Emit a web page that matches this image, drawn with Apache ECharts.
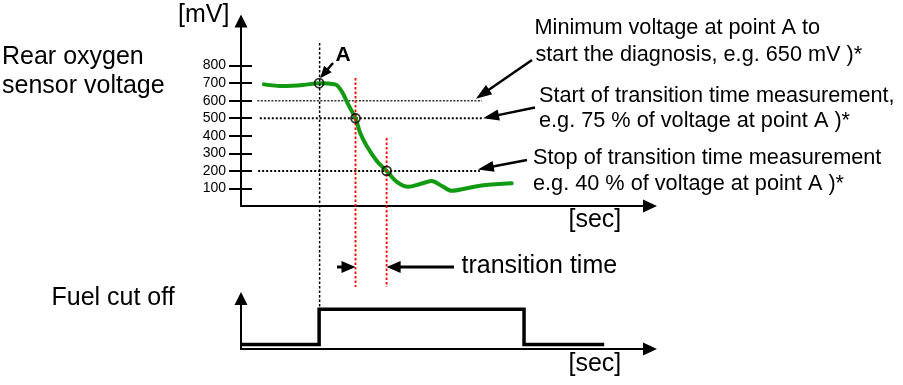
<!DOCTYPE html>
<html>
<head>
<meta charset="utf-8">
<script src="https://cdn.jsdelivr.net/npm/echarts@6/dist/echarts.min.js"></script>
<style>
html,body{margin:0;padding:0;background:#fff;}
#c{width:903px;height:385px;}
</style>
</head>
<body>
<div id="c"></div>
<script>
// ---------------- data ----------------
const curveTime = [5.6, 10.3, 15.2, 19.1, 23.0, 24.6, 26.2, 28.0, 29.1, 30.7, 33.2, 35.6, 38.1, 40.9, 43.8, 46.6, 49.1, 51.5, 55.2, 59.2, 66.2];
const curveVolt = [693, 683, 689, 700, 693, 654, 579, 500, 419, 343, 257, 200, 137, 109, 125, 142, 114, 87, 101, 118, 129];
const markTime = [19.1, 28.0, 35.6];          // point A, 75 % crossing, 40 % crossing
const markVolt = [700, 500, 200];
const thresholdVolt = [600, 500, 200];
const thresholdFrom = [4.0, 4.6, 4.2];
const thresholdTo = [58.9, 59.2, 58.4];
const fuelTime = [0, 19.1, 19.1, 69.2, 69.2, 88.8];
const fuelState = [0, 0, 1, 1, 0, 0];
const yTickValues = [100, 200, 300, 400, 500, 600, 700, 800];
const yAxisName = '[mV]';
const xAxisName = '[sec]';
const sensorLabel = ['Rear oxygen', 'sensor voltage'];
const fuelLabel = 'Fuel cut off';
const pointLabel = 'A';
const transitionLabel = 'transition time';
const noteLines = [
  'Minimum voltage at point A to',
  'start the diagnosis, e.g. 650 mV )*',
  'Start of transition time measurement,',
  'e.g. 75 % of voltage at point A )*',
  'Stop of transition time measurement',
  'e.g. 40 % of voltage at point A )*'
];

// ---------------- chart ----------------
const FONT = '"Liberation Sans", Arial, Helvetica, sans-serif';
const chart = echarts.init(document.getElementById('c'), null, {renderer: 'canvas'});

const axisLineStyle = {color: '#000', width: 2};
const greenColor = '#129a12';

const thresholdSeries = thresholdVolt.map((v, i) => ({
  type: 'line',
  xAxisIndex: 0, yAxisIndex: 0,
  data: [[thresholdFrom[i], v], [thresholdTo[i], v]],
  showSymbol: false, symbol: 'none',
  silent: true,
  z: 1,
  lineStyle: i === 0
    ? {color: '#333', width: 1.6, type: [2, 1.5]}
    : {color: '#000', width: 2, type: [2, 2]}
}));

const option = {
  animation: false,
  backgroundColor: '#fff',
  grid: [
    {left: 241, top: 21, width: 409, height: 185},
    {left: 241, top: 298.5, width: 409, height: 50.5}
  ],
  xAxis: [
    {
      gridIndex: 0, type: 'value', min: 0, max: 100,
      axisLine: {onZero: false, lineStyle: axisLineStyle, symbol: ['none', 'triangle'], symbolSize: [13, 14]},
      axisTick: {show: false}, axisLabel: {show: false}, splitLine: {show: false}
    },
    {
      gridIndex: 1, type: 'value', min: 0, max: 100,
      axisLine: {onZero: false, lineStyle: axisLineStyle, symbol: ['none', 'triangle'], symbolSize: [13, 14]},
      axisTick: {show: false}, axisLabel: {show: false}, splitLine: {show: false}
    }
  ],
  yAxis: [
    {
      gridIndex: 0, type: 'value', min: 0, max: 1054, position: 'left',
      axisLine: {onZero: false, lineStyle: axisLineStyle, symbol: ['none', 'triangle'], symbolSize: [13, 13]},
      axisTick: {show: true, customValues: yTickValues, length: 12, lineStyle: {color: '#000', width: 2}},
      axisLabel: {show: true, customValues: yTickValues, margin: 15, color: '#000', fontSize: 14,
                  fontFamily: FONT},
      splitLine: {show: false}
    },
    {
      gridIndex: 0, type: 'value', min: 0, max: 1054, position: 'left', offset: 0,
      axisLine: {show: false, onZero: false},
      axisTick: {show: true, inside: true, customValues: yTickValues, length: 11, lineStyle: {color: '#000', width: 2}},
      axisLabel: {show: false}, splitLine: {show: false}
    },
    {
      gridIndex: 1, type: 'value', min: -0.13, max: 1.31, position: 'left',
      axisLine: {onZero: false, lineStyle: axisLineStyle, symbol: ['none', 'triangle'], symbolSize: [13, 13]},
      axisTick: {show: false}, axisLabel: {show: false}, splitLine: {show: false}
    }
  ],
  series: [
    ...thresholdSeries,
    {
      type: 'line', xAxisIndex: 0, yAxisIndex: 0,
      data: curveTime.map((t, i) => [t, curveVolt[i]]),
      smooth: 0.35, showSymbol: false, symbol: 'none', silent: true, z: 3,
      lineStyle: {color: greenColor, width: 4, cap: 'round'}
    },
    {
      type: 'scatter', xAxisIndex: 0, yAxisIndex: 0,
      data: markTime.map((t, i) => [t, markVolt[i]]),
      symbol: 'circle', symbolSize: 9, silent: true, z: 5,
      itemStyle: {color: 'rgba(0,0,0,0)', borderColor: '#000', borderWidth: 1.8}
    },
    {
      type: 'line', xAxisIndex: 1, yAxisIndex: 2,
      data: fuelTime.map((t, i) => [t, fuelState[i]]),
      showSymbol: false, symbol: 'none', silent: true, z: 3,
      lineStyle: {color: '#000', width: 3.5, join: 'miter'}
    }
  ]
};
chart.setOption(option);

// ---------------- annotations (positioned from the chart's scales) ----------------
function px(grid, t, v) { return chart.convertToPixel({gridIndex: grid}, [t, v]); }

function arrow(x1, y1, x2, y2, w, len, hw) {
  const dx = x2 - x1, dy = y2 - y1, L = Math.hypot(dx, dy), ux = dx / L, uy = dy / L;
  const bx = x2 - ux * len, by = y2 - uy * len;
  return [
    {type: 'line', silent: true, z: 20, shape: {x1: x1, y1: y1, x2: bx + ux * 2, y2: by + uy * 2},
     style: {stroke: '#000', lineWidth: w}},
    {type: 'polygon', silent: true, z: 20,
     shape: {points: [[x2, y2], [bx - uy * hw / 2, by + ux * hw / 2], [bx + uy * hw / 2, by - ux * hw / 2]]},
     style: {fill: '#000'}}
  ];
}
function text(str, x, y, size, weight) {
  return {type: 'text', silent: true, z: 20, x: x, y: y,
    style: {text: str, fill: '#000', fontSize: size, fontFamily: FONT, fontWeight: weight || 'normal',
            align: 'left', verticalAlign: 'middle', textAlign: 'left', textVerticalAlign: 'middle'}};
}
function vline(x, y1, y2, color, w) {
  return {type: 'line', silent: true, z: 4, shape: {x1: x, y1: y1, x2: x, y2: y2},
          style: {stroke: color, lineWidth: w, lineDash: [2.5, 2]}};
}

const pA = px(0, markTime[0], markVolt[0]);
const p75 = px(0, markTime[1], markVolt[1]);
const p40 = px(0, markTime[2], markVolt[2]);
const fuelOn = px(1, markTime[0], 1);
const tr = 267; // transition arrow row

const g = [];
g.push(vline(pA[0] + 0.5, 43, fuelOn[1] - 1, '#000', 1.5));
g.push(vline(p75[0], 78, 287, '#ff0000', 1.8));
g.push(vline(p40[0], 138, 287, '#ff0000', 1.8));

g.push(...arrow(337, tr, p75[0], tr, 3, 14, 12));
g.push(...arrow(454, tr, p40[0], tr, 3, 14, 12));
g.push(...arrow(333, 63, pA[0] + 1, pA[1] - 5, 2.5, 12, 10));

const t600End = px(0, thresholdTo[0], thresholdVolt[0]);
const t500End = px(0, thresholdTo[1], thresholdVolt[1]);
const t200End = px(0, thresholdTo[2], thresholdVolt[2]);
g.push(...arrow(532, 60, t600End[0] - 6, t600End[1] - 2, 2.5, 16, 11));
g.push(...arrow(535, 107.5, t500End[0], t500End[1], 2.5, 16, 11));
g.push(...arrow(527, 160, t200End[0] - 2, t200End[1] - 1.5, 2.5, 16, 11));

g.push(text(yAxisName, 178, 15, 25));
g.push(text(xAxisName, 568.5, 220.3, 25));
g.push(text(xAxisName, 568.5, 364.3, 25));
g.push(text(sensorLabel[0], 2, 57.5, 25));
g.push(text(sensorLabel[1], 2, 86.5, 25));
g.push(text(fuelLabel, 51.5, 298, 25));
g.push(text(transitionLabel, 461.5, 266, 25));
g.push(text(pointLabel, 335.5, 55.5, 21, 'bold'));

const noteX = [534.5, 535.5, 539, 539, 533, 533];
const noteY = [28.3, 55, 96.2, 121.5, 158, 184];
noteLines.forEach((s, i) => g.push(text(s, noteX[i], noteY[i], 21.7)));

chart.setOption({graphic: {elements: g}});
</script>
</body>
</html>
